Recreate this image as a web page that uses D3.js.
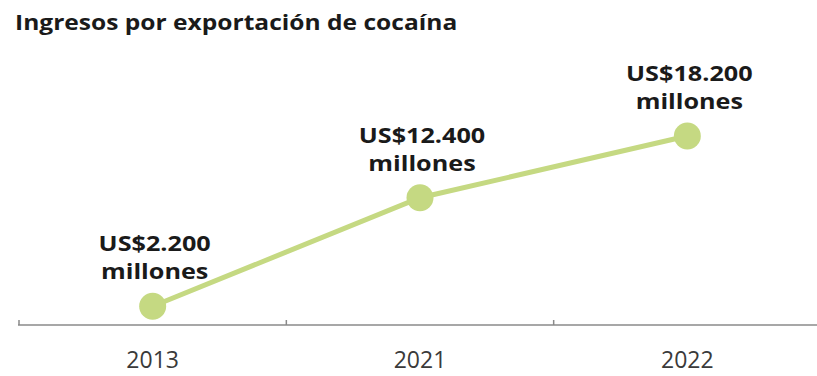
<!DOCTYPE html>
<html>
<head>
<meta charset="utf-8">
<script src="https://cdn.jsdelivr.net/npm/d3@7"></script>
<style>
  body { margin: 0; background: #fff; }
  svg { display: block; }
</style>
</head>
<body>
<svg id="chart"></svg>
<script>
const years = ["2013", "2021", "2022"];
const values = [2200, 12400, 18200];
const labels = ["US$2.200", "US$12.400", "US$18.200"];

const width = 817;
const height = 376;
const green = "#c5d982";

const svg = d3.select("#chart").attr("width", width).attr("height", height);

// the source type is wider than Open Sans, so stretch horizontally
svg.append("g")
  .attr("transform", "translate(15,30) scale(1.17,1)")
  .append("text")
  .style("font-family", "'Open Sans', sans-serif")
  .style("font-weight", "700")
  .style("font-size", "21px")
  .style("fill", "#1a1a1a")
  .text("Ingresos por exportación de cocaína");

const x = d3.scaleBand().domain(years).range([19, 821]);
const y = d3.scaleLinear().domain([0, 20000]).range([329.6, 116.9]);
const cx = (d, i) => x(years[i]) + x.bandwidth() / 2;

const axisY = 325;

// axis line and boundary ticks
svg.append("line")
  .attr("x1", 18).attr("x2", width)
  .attr("y1", axisY).attr("y2", axisY)
  .style("stroke", "#8a8a8a").style("stroke-width", 1.5);

svg.selectAll(".tick")
  .data(years)
  .join("line")
  .attr("class", "tick")
  .attr("x1", (d) => x(d)).attr("x2", (d) => x(d))
  .attr("y1", axisY - 5).attr("y2", axisY)
  .style("stroke", "#8a8a8a").style("stroke-width", 1.5);

svg.selectAll(".year")
  .data(years)
  .join("text")
  .attr("class", "year")
  .attr("x", (d) => x(d) + x.bandwidth() / 2)
  .attr("y", 368)
  .attr("text-anchor", "middle")
  .style("font-family", "'Open Sans', sans-serif")
  .style("font-size", "23px")
  .style("fill", "#3a3a3a")
  .text((d) => d);

const line = d3.line()
  .x((d, i) => cx(d, i))
  .y((d) => y(d));

svg.append("path")
  .datum(values)
  .attr("d", line)
  .style("fill", "none")
  .style("stroke", green)
  .style("stroke-width", 5);

svg.selectAll(".dot")
  .data(values)
  .join("circle")
  .attr("class", "dot")
  .attr("cx", cx)
  .attr("cy", (d) => y(d))
  .attr("r", 13.5)
  .style("fill", green);

const lbl = svg.selectAll(".lbl")
  .data(values)
  .join("g")
  .attr("class", "lbl")
  .attr("transform", (d, i) => `translate(${cx(d, i) + 2},${y(d) - 55}) scale(1.2,1)`)
  .append("text")
  .attr("text-anchor", "middle")
  .style("font-family", "'Open Sans', sans-serif")
  .style("font-weight", "700")
  .style("font-size", "21px")
  .style("fill", "#1a1a1a");

lbl.append("tspan")
  .attr("x", 0)
  .attr("y", 0)
  .text((d, i) => labels[i]);

lbl.append("tspan")
  .attr("x", 0)
  .attr("dy", 28)
  .text("millones");
</script>
</body>
</html>
